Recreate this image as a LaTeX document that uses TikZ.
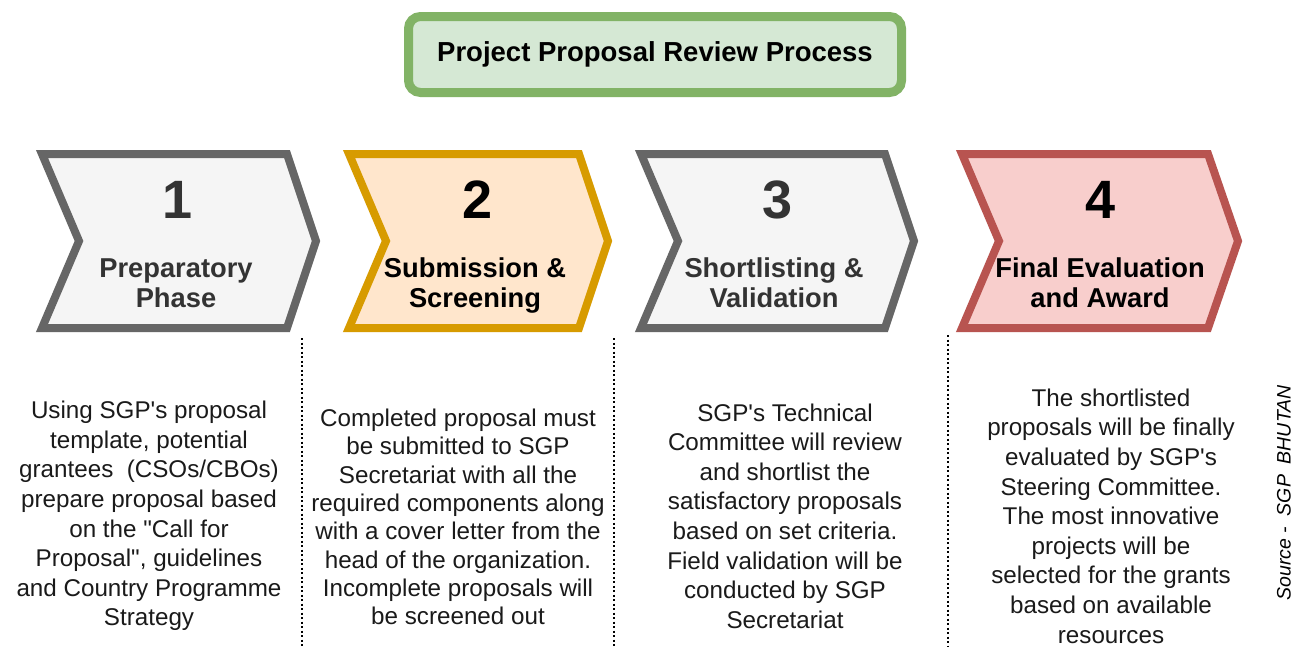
\documentclass[tikz,border=0pt]{standalone}
\usepackage{fontspec}
\setmainfont{Liberation Sans}
\newcommand{\sq}{\textquotesingle}
\newcommand{\dq}{\textquotedbl}
\begin{document}
\begin{tikzpicture}[x=1pt,y=-1pt,
  chev/.style={line width=8pt,line join=miter},
  grayc/.style={chev,draw=ch1,fill=ch1f},
  orangec/.style={chev,draw=ch2,fill=ch2f},
  redc/.style={chev,draw=ch4,fill=ch4f},
  num/.style={font=\bfseries\fontsize{54}{60}\selectfont},
  lab/.style={font=\bfseries\fontsize{27.3}{30}\selectfont,align=center,anchor=base},
  desc/.style={font=\fontsize{24.2}{29.6}\selectfont,align=center,text=txt},
  sep/.style={line width=1.2pt,dash pattern=on 2pt off 2.5pt,draw=black}
]
\definecolor{ch1}{HTML}{666666}
\definecolor{ch1f}{HTML}{F5F5F5}
\definecolor{ch2}{HTML}{D79B00}
\definecolor{ch2f}{HTML}{FFE6CC}
\definecolor{ch4}{HTML}{B85450}
\definecolor{ch4f}{HTML}{F8CECC}
\definecolor{tg}{HTML}{82B366}
\definecolor{tgf}{HTML}{D5E8D4}
\definecolor{dk}{HTML}{333333}
\definecolor{txt}{HTML}{1A1A1A}
\useasboundingbox (0,0) rectangle (1297,646);
\fill[white] (0,0) rectangle (1297,646);

% title
\draw[line width=9pt,draw=tg,fill=tgf,rounded corners=12pt] (408.5,16.5) rectangle (901.5,92.5);
\node[font=\bfseries\fontsize{27.5}{30}\selectfont,text=black] (title) at (655,54) {Project Proposal Review Process};

% chevrons
\draw[grayc] (42,154) -- (287,154) -- (316,241) -- (287,328) -- (42,328) -- (79,241) -- cycle;
\draw[orangec] (349,154) -- (579,154) -- (608,241) -- (579,328) -- (349,328) -- (386,241) -- cycle;
\draw[grayc] (641,154) -- (885,154) -- (914,241) -- (885,328) -- (641,328) -- (678,241) -- cycle;
\draw[redc] (962,154) -- (1208,154) -- (1238,241) -- (1208,328) -- (962,328) -- (999,241) -- cycle;

\node[num,text=dk] (n1) at (178,200) {1};
\node[num,text=black] (n2) at (478,200) {2};
\node[num,text=dk] (n3) at (778,200) {3};
\node[num,text=black] (n4) at (1100,200) {4};

\node[lab,text=dk] (l1) at (176,307) {Preparatory\\Phase};
\node[lab,text=black] (l2) at (475,307) {Submission \&\\Screening};
\node[lab,text=dk] (l3) at (774,307) {Shortlisting \&\\Validation};
\node[lab,text=black] (l4) at (1100,307) {Final Evaluation\\and Award};

% separators
\draw[sep] (302,338) -- (302,646);
\draw[sep] (614,338) -- (614,646);
\draw[sep] (948,335) -- (948,646);

% descriptions
\node[desc] (d1) at (149,516) {Using SGP\sq s proposal\\template, potential\\grantees\ \ (CSOs/CBOs)\\prepare proposal based\\on the \dq Call for\\Proposal\dq, guidelines\\and Country Programme\\Strategy};
\node[desc,font=\fontsize{24.2}{28.3}\selectfont] (d2) at (458,517) {Completed proposal must\\be submitted to SGP\\Secretariat with all the\\required components along\\with a cover letter from the\\head of the organization.\\Incomplete proposals will\\be screened out};
\node[desc] (d3) at (785,516) {SGP\sq s Technical\\Committee will review\\and shortlist the\\satisfactory proposals\\based on set criteria.\\Field validation will be\\conducted by SGP\\Secretariat};
\node[desc] (d4) at (1111,516) {The shortlisted\\proposals will be finally\\evaluated by SGP\sq s\\Steering Committee.\\The most innovative\\projects will be\\selected for the grants\\based on available\\resources};

\node[rotate=90,font=\itshape\fontsize{19.5}{22}\selectfont,text=black] (src) at (1284,493) {Source -\ \ SGP\ \ BHUTAN};
\end{tikzpicture}
\end{document}
